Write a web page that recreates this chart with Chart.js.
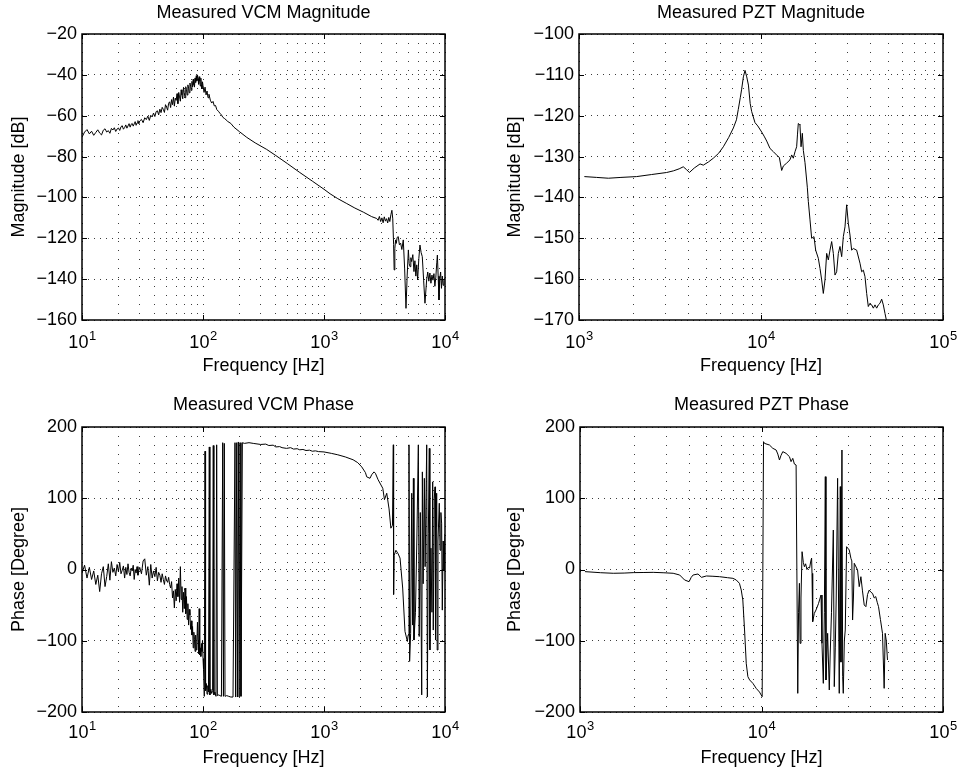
<!DOCTYPE html>
<html>
<head>
<meta charset="utf-8">
<script src="https://cdn.jsdelivr.net/npm/chart.js@4.4.1/dist/chart.umd.min.js"></script>
<style>
html,body{margin:0;padding:0;background:#fff;}
#wrap{position:relative;width:961px;height:772px;background:#fff;}
canvas{position:absolute;}
</style>
</head>
<body>
<div id="wrap">
<canvas id="c1" width="480" height="386" style="left:0;top:0"></canvas>
<canvas id="c2" width="481" height="386" style="left:480px;top:0"></canvas>
<canvas id="c3" width="480" height="386" style="left:0;top:386px"></canvas>
<canvas id="c4" width="481" height="386" style="left:480px;top:386px"></canvas>
</div>
<script>
// ---------------- DATA ----------------
const vcmMagFreq = [
  10,10.5,11,11.5,12,12.5,13,13.5,14,14.5,
  15,15.5,16,16.5,17,17.5,18,18.5,19,19.5,
  20,20.5,21,21.5,22,22.5,23,23.5,24,24.5,
  25,25.5,26,26.5,27,27.5,28,28.5,29,29.5,
  30,31,32,33,34,35,36,37,38,39,
  40,41,42,43,44,45,46,47,48,49,
  50,51,52,53,54,55,56,57,58,59,
  60,61,62,63,64,65,66,67,68,69,
  70,71,72,73,74,75,76,77,78,79,
  80,81,82,83,84,85,86,87,88,89,
  90,91,92,93,94,95,96,97,98,99,
  100,102,104,106,108,110,112,115,118,121,
  124,127,130,134,138,142,146,150,155,160,
  170,180,200,230,270,336,400,500,631,800,
  1000,1122,1300,1542,1800,2113,2477,2725,2800,2870,
  2940,3010,3080,3150,3220,3290,3360,3430,3500,3570,
  3640,3700,3760,3800,3850,3907,3960,4020,4110,4200,
  4300,4400,4520,4640,4760,4870,4980,5060,5140,5220,
  5300,5420,5540,5640,5740,5840,5940,6080,6210,6350,
  6490,6660,6830,7050,7200,7350,7500,7650,7800,7950,
  8100,8250,8400,8550,8650,8780,8920,9050,9200,9350,
  9500,9650,9800,10000
];
const vcmMagDb = [
  -70.5,-68.0,-66.8,-68.9,-67.6,-69.6,-68.2,-66.9,-68.5,-69.4,
  -67.1,-66.4,-68.0,-67.3,-68.6,-66.2,-67.0,-65.9,-67.7,-66.5,
  -66.0,-67.2,-65.4,-64.9,-66.6,-65.8,-64.5,-66.1,-65.0,-63.9,
  -65.6,-64.2,-63.8,-65.1,-64.0,-62.9,-64.7,-63.5,-62.4,-64.0,
  -62.6,-61.8,-63.4,-61.0,-61.9,-60.2,-62.3,-59.8,-60.6,-58.7,
  -60.4,-58.0,-57.6,-59.6,-56.8,-58.5,-55.9,-56.9,-58.4,-54.6,
  -55.8,-57.3,-53.9,-53.2,-56.0,-52.1,-54.6,-50.9,-55.3,-51.4,
  -52.5,-49.2,-54.1,-48.6,-50.8,-52.9,-47.3,-49.8,-51.7,-46.1,
  -48.7,-51.2,-45.8,-47.1,-49.9,-44.9,-46.5,-48.8,-44.0,-45.5,
  -47.6,-43.2,-45.9,-42.1,-44.8,-46.0,-41.5,-43.7,-40.4,-42.9,
  -40.0,-41.8,-44.6,-40.9,-43.0,-45.5,-41.6,-44.8,-46.9,-43.4,
  -45.2,-48.6,-46.0,-49.8,-47.9,-51.2,-49.5,-52.4,-53.8,-53.0,
  -55.2,-55.0,-57.0,-57.8,-58.8,-59.6,-60.8,-61.3,-62.0,-62.8,
  -63.8,-65.6,-67.8,-70.6,-73.3,-76.5,-79.5,-83.5,-87.8,-92.0,
  -96.0,-98.2,-100.6,-103.0,-105.2,-107.2,-109.4,-110.3,-111.2,-109.3,
  -111.8,-110.0,-112.4,-109.5,-111.6,-110.4,-112.5,-109.8,-111.8,-108.5,
  -106.3,-110.5,-123.0,-135.5,-125.0,-120.8,-122.5,-119.6,-119.2,-123.2,
  -122.4,-125.5,-120.8,-135.0,-154.3,-138.0,-125.7,-132.5,-133.9,-129.5,
  -131.4,-128.0,-136.3,-131.0,-138.5,-133.0,-140.4,-129.8,-123.3,-127.0,
  -129.0,-140.5,-151.8,-140.4,-136.5,-141.0,-137.0,-142.0,-138.0,-140.5,
  -137.3,-143.5,-139.0,-132.0,-128.2,-138.5,-150.2,-140.0,-136.5,-144.5,
  -138.5,-143.0,-140.5,-139.5
];

const vcmPhaseFreq = [
  10,10.5,11,11.5,12,12.5,13,13.5,14,14.5,
  15,15.5,16,16.5,17,17.5,18,18.5,19,19.5,
  20,20.5,21,21.5,22,22.5,23,23.5,24,24.5,
  25,25.5,26,26.5,27,27.5,28,28.5,29,29.5,
  30,31,32,33,34,35,36,37,38,39,
  40,41,42,43,44,45,46,47,48,49,
  50,51,52,53,54,55,56,57,58,59,
  60,61,62,63,64,65,66,67,68,69,
  70,71,72,73,74,75,76,77,78,79,
  80,81,82,83,84,85,86,87,88,89,
  90,91,92,93,94,95,96,97,98,99,
  100,101,102.5,103.9,105,106.5,108,109.5,111,112.7,
  114,116,118,120,121.6,123,125.5,128,129.7,131.5,
  135,138,142,145.5,147.5,150,152,157,163,170,
  177,183.8,186,190,192.5,195.9,199,202.3,206,211.5,
  220,240,260,300,330,350,380,400,430,450,
  490,530,560,600,630,670,710,760,800,850,
  900,1000,1150,1300,1500,1740,1900,2050,2200,2256,
  2400,2477,2590,2660,2800,3060,3160,3300,3450,3570,
  3680,3740,3760,3800,3930,4100,4250,4470,4670,4890,
  4960,5040,5100,5200,5310,5400,5480,5540,5700,5850,
  6020,6120,6250,6420,6500,6600,6750,6850,7060,7150,
  7280,7420,7500,7650,7800,7910,8000,8150,8270,8350,
  8450,8530,8620,8750,8970,9100,9250,9380,9500,9650,
  9810,10000
];
const vcmPhaseDeg = [
  -5,6,-12,3,-14,-2,-21,-8,-31,-6,
  4,-24,-10,8,-15,11,-4,2,-9,7,
  -3,10,-6,-1,5,-12,3,-7,8,-4,
  -9,2,-2,6,-14,0,-5,4,-8,-1,
  3,-6,12,15,-8,4,-22,7,-12,-2,
  -10,3,-16,-4,-8,-18,-6,-14,-21,-9,
  -15,-18,-11,-21,-26,-17,-40,-30,-54,-28,
  -44,-20,-38,-12,-46,4,-42,-24,-60,-32,
  -55,-26,-62,-38,-70,-48,-78,-56,-64,-84,
  -72,-92,-80,-110,-88,-98,-115,-92,-113,-104,
  -74,-99,-118,-55,-120,-110,-122,-104,-115,-100,
  -125,-140,-178,166,-170,-160,-175,-163,-172,172,
  -176,-168,-174,-170,174,-176,-172,-178,175,-177,
  -176,-177,-178,178,-178,177,-178,-177,-178,-179,
  -179,178,-179,178,-179,179,-179,178,-178,178,
  177,178,177,175.5,176,174,174.5,172,172.5,171,
  170,171,169,169.5,168,168.5,167,167.5,166,166.5,
  165.5,165,163,161,158,154,150,144,136,130,
  128,133,137,135,126,114,98,107,85,58,
  62,175,-35,20,27,22,16,-26,-87,-101,
  -92,175,-129,-90,107,-78,128,-99,-60,40,
  175,-94,80,-176,137,-20,128,4,175,-179,
  50,170,-113,30,-60,123,-85,100,116,-99,
  60,107,-113,40,93,27,80,65,-57,40,
  -1,50
];

const pztMagFreq = [
  1070,1250,1450,1700,2073,2500,3030,3300,3550,3740,
  3900,4040,4300,4625,4820,5150,5470,5850,6210,6650,
  7050,7330,7500,7700,7830,8000,8170,8350,8530,8720,
  8890,9270,9600,10090,10400,10750,11200,11690,12300,12610,
  12990,13270,13840,14430,14740,15050,15380,15700,15870,16030,
  16200,16370,16600,16870,17090,17450,17970,18200,18590,18980,
  19550,19970,20650,21100,21550,22000,22470,22950,23440,23940,
  24450,24970,25500,26040,26600,27160,27750,28340,28940,29550,
  30180,30830,31480,32150,33540,34990,35740,36500,37270,38070,
  38870,39700,40550,41420,42300,43200,44130,45070,46030,47000,
  48010,49040,50000
];
const pztMagDb = [
  -134.9,-135.1,-135.3,-135.1,-134.9,-134.4,-133.9,-133.5,-133.0,-132.5,
  -133.2,-133.9,-132.8,-131.8,-132.1,-131.3,-130.4,-129.2,-127.6,-125.3,
  -123.0,-121.0,-118.5,-115.5,-113.5,-110.5,-108.9,-110.5,-112.5,-117.0,
  -119.0,-121.7,-122.5,-124.0,-125.0,-126.2,-128.0,-128.8,-129.8,-130.2,
  -133.4,-132.3,-131.6,-130.8,-129.6,-130.4,-128.8,-127.6,-124.5,-121.9,
  -122.1,-122.3,-127.6,-124.3,-128.5,-131.5,-137.5,-141.0,-145.5,-150.0,
  -149.6,-152.9,-154.9,-157.4,-160.2,-163.5,-160.2,-153.7,-155.3,-152.9,
  -150.8,-153.7,-159.0,-158.2,-153.7,-152.0,-154.5,-149.6,-147.2,-141.8,
  -146.3,-149.2,-152.9,-152.5,-152.9,-156.1,-158.2,-157.8,-159.4,-163.5,
  -166.7,-165.9,-166.3,-167.1,-166.3,-167.1,-166.3,-165.9,-164.9,-166.3,
  -168.4,-170.4,-172
];

const pztPhaseFreq = [
  1065,1300,1525,1750,1963,2250,2531,2900,3260,3540,
  3770,3990,4100,4200,4470,4670,4970,5400,5877,6500,
  6960,7258,7560,7733,7890,8066,8240,8412,8600,8964,
  9348,9750,10085,10260,10387,11066,11540,12040,12300,12560,
  12800,13100,13660,14250,14550,14870,15180,15510,15840,16000,
  16180,16320,16500,16730,17000,17230,17500,17800,18100,18400,
  18700,18880,18980,19140,19550,19970,20600,21280,21540,21910,
  22200,22470,22660,23140,23630,23900,24300,24870,25180,25500,
  25800,26260,26820,27170,27400,27750,28000,28220,28600,28940,
  29430,30440,31090,31450,31760,32100,32440,33830,34550,35290,
  36000,36810,37600,38400,39220,40100,40900,41800,42600,43400,
  44130,45200,46410,47410,48010,48700,49450
];
const pztPhaseDeg = [
  -3.0,-4.5,-5.3,-5.0,-4.4,-4.2,-4.0,-4.6,-5.3,-7.7,
  -14.7,-17.1,-11.0,-7.7,-6.3,-11.0,-9.1,-9.5,-10.1,-11.5,
  -12.4,-14.7,-19.4,-28.8,-42.8,-84.9,-131.6,-150.4,-155.0,-159.8,
  -166.8,-172,-178.5,179.4,177,174.7,170.1,167.7,162,153.7,
  160,165.4,163.0,158.4,151.4,156.0,148,146.7,-173.8,-60,
  -19.4,-103.6,-40,25.0,10,3.9,8,0,3,2,
  12,16,-5.4,-73.2,-61.5,-56.8,-48,-35.8,-103.6,-159.8,
  -60,130.3,-155.1,-89.6,-169.1,-120,-60,55.4,-164.4,-110,
  -40,128,-173.8,116.3,-130,167.7,-150,-173.8,-100,-84.9,
  32,27.4,15.7,12,-70.9,-40,8.7,-0.7,-24.1,-10.1,
  -30,-49.8,-52.2,-35,-28.8,-32,-33.5,-40,-38,-46,
  -52.2,-70,-89.6,-166.8,-89.6,-100,-127
];

// grid / tick values
const vcmGridFreq = [10,20,30,40,50,60,70,80,90,100,200,300,400,500,600,700,800,900,
  1000,2000,3000,4000,5000,6000,7000,8000,9000,10000];
const pztGridFreq = [1000,2000,3000,4000,5000,6000,7000,8000,9000,10000,
  20000,30000,40000,50000,60000,70000,80000,90000,100000];
const vcmDecades = [10,100,1000,10000];
const vcmDecadeExp = ['1','2','3','4'];
const pztDecades = [1000,10000,100000];
const pztDecadeExp = ['3','4','5'];
const vcmMagTicks = [-160,-140,-120,-100,-80,-60,-40,-20];
const pztMagTicks = [-170,-160,-150,-140,-130,-120,-110,-100];
const phaseTicks = [-200,-100,0,100,200];

// ---------------- DRAWING ----------------
const FONT = '"Liberation Sans", Arial, Helvetica, sans-serif';
const BLACK = '#000';
const GRID = '#3c3c3c';

function exponentLabels(decades, exps, baseOffset) {
  return {
    id: 'exponentLabels',
    afterDraw(chart) {
      const ctx = chart.ctx, xs = chart.scales.x, bottom = chart.chartArea.bottom;
      ctx.save();
      ctx.fillStyle = BLACK;
      ctx.textBaseline = 'alphabetic';
      ctx.textAlign = 'left';
      decades.forEach((v, i) => {
        const px = xs.getPixelForValue(v);
        ctx.font = '18px ' + FONT;
        const bw = ctx.measureText('10').width;
        ctx.font = '13px ' + FONT;
        const ew = ctx.measureText(exps[i]).width;
        const x0 = px - (bw + ew) / 2;
        ctx.font = '18px ' + FONT;
        ctx.fillText('10', x0, bottom + baseOffset);
        ctx.font = '13px ' + FONT;
        ctx.fillText(exps[i], x0 + bw + 0.5, bottom + baseOffset - 8);
      });
      ctx.restore();
    }
  };
}

function framePlugin(decades) {
  return {
    id: 'frame',
    afterDraw(chart) {
      const {left, right, top, bottom} = chart.chartArea;
      const ctx = chart.ctx, xs = chart.scales.x, ys = chart.scales.y;
      ctx.save();
      ctx.strokeStyle = BLACK;
      ctx.lineWidth = 1;
      ctx.beginPath();
      ys.ticks.forEach(t => {
        const py = Math.round(ys.getPixelForValue(t.value)) + 0.5;
        ctx.moveTo(left, py); ctx.lineTo(left + 5, py);
        ctx.moveTo(right, py); ctx.lineTo(right - 5, py);
      });
      decades.forEach(v => {
        const px = Math.round(xs.getPixelForValue(v)) + 0.5;
        ctx.moveTo(px, bottom); ctx.lineTo(px, bottom - 5);
        ctx.moveTo(px, top); ctx.lineTo(px, top + 5);
      });
      ctx.stroke();
      ctx.lineWidth = 1.5;
      ctx.strokeRect(left, top, right - left, bottom - top);
      ctx.restore();
    }
  };
}

function build(id, o) {
  const n = Math.min(o.freq.length, o.vals.length);
  const points = [];
  for (let i = 0; i < n; i++) points.push({x: o.freq[i], y: o.vals[i]});
  const font = {family: FONT, size: 18, weight: 'normal', lineHeight: 1.2};
  return new Chart(document.getElementById(id), {
    type: 'line',
    data: {datasets: [{data: points, borderColor: BLACK, borderWidth: 1, pointRadius: 0, fill: false, tension: 0}]},
    options: {
      responsive: false, animation: false, devicePixelRatio: 1, events: [],
      layout: {padding: {left: 0, top: 0, right: o.padRight, bottom: 0}},
      plugins: {
        legend: {display: false},
        tooltip: {enabled: false},
        title: {display: true, text: o.title, fullSize: false, color: BLACK, font: font,
          padding: {top: o.titleTop, bottom: o.titleBottom}}
      },
      scales: {
        x: {
          type: 'logarithmic', min: o.xmin, max: o.xmax,
          afterBuildTicks: s => { s.ticks = o.grid.map(v => ({value: v})); },
          afterFit: s => { s.height = o.xHeight; },
          ticks: {display: false},
          grid: {color: GRID, lineWidth: 1, drawTicks: false},
          border: {display: false, dash: [1, 8]},
          title: {display: true, text: 'Frequency [Hz]', color: BLACK, font: font,
            padding: {top: 0, bottom: o.xTitleBottom}}
        },
        y: {
          type: 'linear', min: o.ymin, max: o.ymax,
          afterBuildTicks: s => { s.ticks = o.yticks.map(v => ({value: v})); },
          afterFit: s => { s.width = o.yWidth; },
          ticks: {color: BLACK, font: font, padding: 5, autoSkip: false,
            callback: v => String(v).replace('-', '\u2212')},
          grid: {color: GRID, lineWidth: 1, drawTicks: false},
          border: {display: false, dash: [1, 5]},
          title: {display: true, text: o.ytitle, color: BLACK, font: font,
            padding: {top: o.yTitleLeft, bottom: 0}}
        }
      }
    },
    plugins: [exponentLabels(o.decades, o.exps, o.expBase), framePlugin(o.decades)]
  });
}

build('c1', {
  title: 'Measured VCM Magnitude', ytitle: 'Magnitude [dB]',
  freq: vcmMagFreq, vals: vcmMagDb, xmin: 10, xmax: 10000, grid: vcmGridFreq,
  decades: vcmDecades, exps: vcmDecadeExp, ymin: -160, ymax: -20, yticks: vcmMagTicks,
  padRight: 35, yWidth: 82, xHeight: 66, titleTop: 2.7, titleBottom: 9.7,
  xTitleBottom: 9.2, yTitleLeft: 8, expBase: 28
});
build('c2', {
  title: 'Measured PZT Magnitude', ytitle: 'Magnitude [dB]',
  freq: pztMagFreq, vals: pztMagDb, xmin: 1000, xmax: 100000, grid: pztGridFreq,
  decades: pztDecades, exps: pztDecadeExp, ymin: -170, ymax: -100, yticks: pztMagTicks,
  padRight: 18, yWidth: 99, xHeight: 66, titleTop: 2.7, titleBottom: 9.7,
  xTitleBottom: 9.2, yTitleLeft: 24.7, expBase: 28
});
build('c3', {
  title: 'Measured VCM Phase', ytitle: 'Phase [Degree]',
  freq: vcmPhaseFreq, vals: vcmPhaseDeg, xmin: 10, xmax: 10000, grid: vcmGridFreq,
  decades: vcmDecades, exps: vcmDecadeExp, ymin: -200, ymax: 200, yticks: phaseTicks,
  padRight: 35, yWidth: 82, xHeight: 60, titleTop: 8.2, titleBottom: 11.2,
  xTitleBottom: 3.2, yTitleLeft: 8, expBase: 26
});
build('c4', {
  title: 'Measured PZT Phase', ytitle: 'Phase [Degree]',
  freq: pztPhaseFreq, vals: pztPhaseDeg, xmin: 1000, xmax: 100000, grid: pztGridFreq,
  decades: pztDecades, exps: pztDecadeExp, ymin: -200, ymax: 200, yticks: phaseTicks,
  padRight: 18, yWidth: 100, xHeight: 60, titleTop: 8.2, titleBottom: 11.2,
  xTitleBottom: 3.2, yTitleLeft: 24.7, expBase: 26
});
</script>
</body>
</html>
